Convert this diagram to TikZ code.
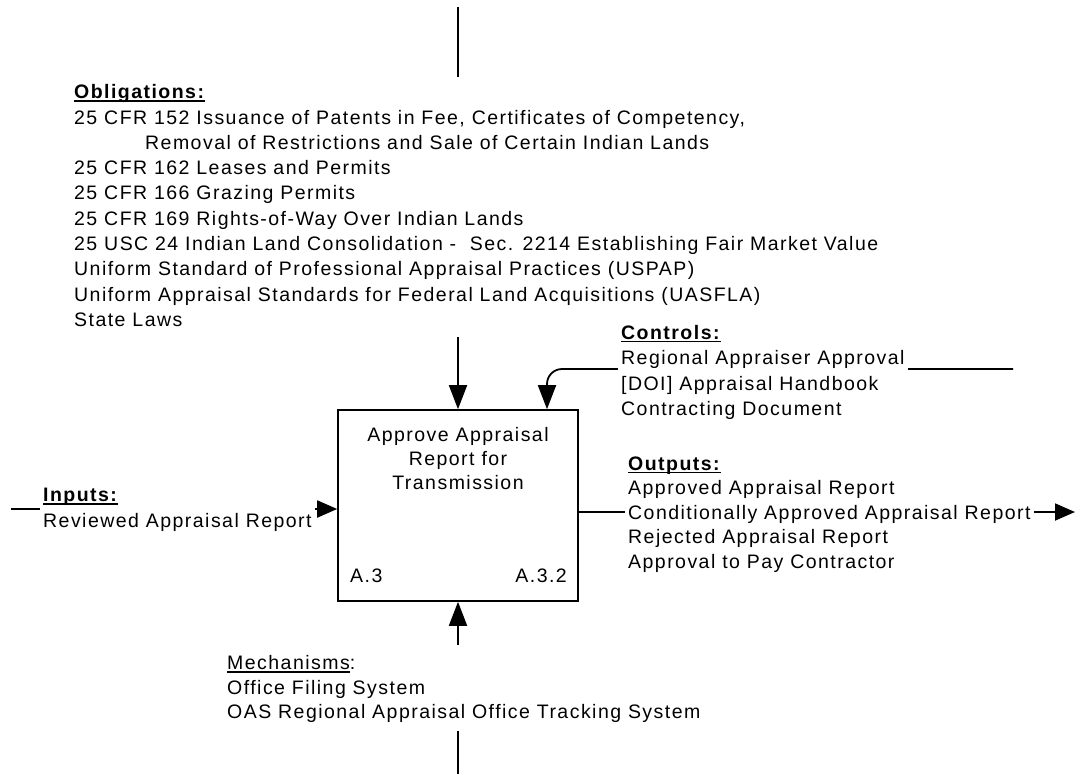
\documentclass[tikz,border=0pt]{standalone}
\usepackage{fontspec}
\setmainfont{Liberation Sans}[LetterSpace=7.5]
\usetikzlibrary{arrows.meta}
% heading underline that runs just under the baseline
\newcommand\hdul[1]{\setbox0\hbox{#1}\rlap{\rule[-2.8pt]{\wd0}{1.3pt}}\box0}
% invisible struts that fix the top and bottom of a text block
\newcommand\topstrut[1]{\rule{0pt}{#1pt}}
\newcommand\botstrut[1]{\rule[-#1pt]{0pt}{0pt}}

\begin{document}
\begin{tikzpicture}[x=1pt,y=-1pt,
  conn/.style={line width=1.8pt},
  bigtip/.style={-{Triangle[length=24pt,width=18pt]}},
  smalltip/.style={-{Triangle[length=20pt,width=17pt]}},
  textblock/.style={fill=white, anchor=north west, align=left, inner xsep=3pt, inner ysep=0pt},
  activity/.style={draw, line width=1.6pt, minimum width=240pt, minimum height=191pt, inner sep=0pt},
]
\fill[white] (0,0) rectangle (1075,774);
\useasboundingbox (0,0) rectangle (1075,774);

% activity box
\node[activity] (act) at (458,505.5) {};

% free ends of the ICOM arrows
\coordinate (otop) at (458,7);
\coordinate (iin) at (11,509);
\coordinate (oout) at (1075,512);
\coordinate (cin) at (1013,369);
\coordinate (mbot) at (458,774);

\draw[conn,bigtip] (otop) -- (act.north);
\draw[conn,smalltip] (iin) -- (iin -| act.west);
\draw[conn,smalltip] (oout -| act.east) -- (oout);
\draw[conn,bigtip,rounded corners=15pt] (cin) -| ([xshift=89pt]act.north);
\draw[conn,bigtip] (mbot) -- (act.south);

% obligations
\node[textblock, font=\fontsize{19.5pt}{25.3pt}\selectfont] (obl) at (71,77) {%
\topstrut{21.5}\hdul{\textbf{Obligations:}}\\
25 CFR 152 Issuance of Patents in Fee, Certificates of Competency,\\
\hspace*{71pt}Removal of Restrictions and Sale of Certain Indian Lands\\
25 CFR 162 Leases and Permits\\
25 CFR 166 Grazing Permits\\
25 CFR 169 Rights-of-Way Over Indian Lands\\
25 USC 24 Indian Land Consolidation -\ \ Sec. 2214 Establishing Fair Market Value\\
Uniform Standard of Professional Appraisal Practices (USPAP)\\
Uniform Appraisal Standards for Federal Land Acquisitions (UASFLA)\\
State Laws\botstrut{10.8}};

% controls
\node[textblock, font=\fontsize{19.5pt}{25.3pt}\selectfont] (ctl) at (618,323.2) {%
\topstrut{16}\hdul{\textbf{Controls:}}\\
Regional Appraiser Approval\\
{[DOI]} Appraisal Handbook\\
Contracting Document\botstrut{5}};

% inputs
\node[textblock, font=\fontsize{19.5pt}{25.3pt}\selectfont] (inp) at (40,485.5) {%
\topstrut{16}\hdul{\textbf{Inputs:}}\\
Reviewed Appraisal Report\botstrut{5}};

% outputs
\node[textblock, font=\fontsize{19.5pt}{24.5pt}\selectfont] (outp) at (625,454) {%
\topstrut{16}\hdul{\textbf{Outputs:}}\\
Approved Appraisal Report\\
Conditionally Approved Appraisal Report\\
Rejected Appraisal Report\\
Approval to Pay Contractor\botstrut{5}};

% mechanisms
\node[textblock, font=\fontsize{19.5pt}{24.5pt}\selectfont] (mech) at (224,645) {%
\topstrut{24.5}\hdul{Mechanisms}:\\
Office Filing System\\
OAS Regional Appraisal Office Tracking System\botstrut{12.5}};

% activity name and numbers
\node[anchor=north, align=center, inner sep=0pt, font=\fontsize{19.5pt}{24pt}\selectfont] (title) at (458,425.5) {%
\topstrut{16}Approve Appraisal\\Report for\\Transmission};
\node[anchor=base west, inner sep=0pt, font=\fontsize{19.5pt}{24pt}\selectfont] (nodeid) at (350,582.5) {A.3};
\node[anchor=base east, inner sep=0pt, font=\fontsize{19.5pt}{24pt}\selectfont] (diagid) at (567,582.5) {A.3.2};
\end{tikzpicture}
\end{document}
